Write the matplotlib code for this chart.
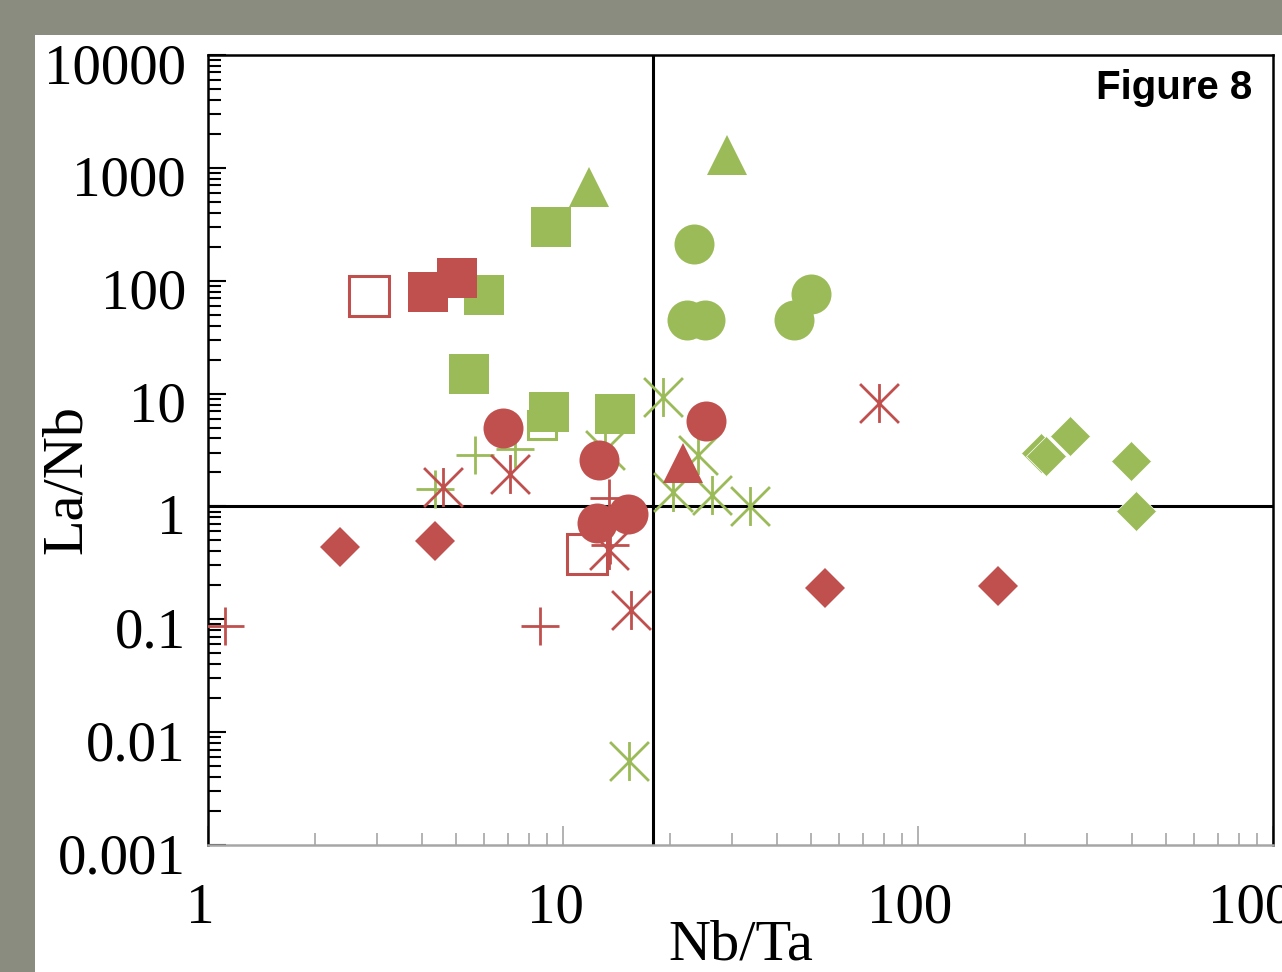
import numpy as np
import matplotlib
matplotlib.use("Agg")
import matplotlib.pyplot as plt
from matplotlib.path import Path
from matplotlib.patches import Rectangle
from matplotlib.transforms import ScaledTranslation
from matplotlib.ticker import LogLocator, FixedLocator, FixedFormatter, NullFormatter

# ---------------- data (Nb/Ta, La/Nb) ----------------
green_tri_x = [11.8, 29.0]
green_tri_y = [678, 1300]
green_sq_x = [9.25, 5.99, 5.43, 9.13, 14.0]
green_sq_y = [300, 74.8, 14.9, 6.88, 6.61]
green_sq_open_x = [8.73]
green_sq_open_y = [5.28]
green_circ_x = [23.4, 22.4, 25.1, 44.7, 50.0]
green_circ_y = [212, 45, 45, 45, 76.4]
green_dia_x = [222, 229, 268, 398, 411]
green_dia_y = [2.95, 2.78, 4.22, 2.53, 0.91]
green_ast_x = [19.1, 24.0, 20.4, 26.3, 33.6, 15.3, 13.1]
green_ast_y = [9.35, 2.86, 1.35, 1.27, 1.0, 0.0055, 3.17]
green_plus_x = [5.65, 7.32, 4.36]
green_plus_y = [2.86, 3.24, 1.43]

red_sq_x = [4.17, 5.03]
red_sq_y = [79.6, 106]
red_sq_open_x = [2.84, 11.7]
red_sq_open_y = [73.3, 0.38]
red_circ_x = [6.78, 12.6, 12.5, 15.2, 25.3]
red_circ_y = [4.97, 2.59, 0.716, 0.86, 5.73]
red_tri_x = [21.8]
red_tri_y = [2.43]
red_dia_x = [2.35, 4.36, 54.7, 168]
red_dia_y = [0.438, 0.496, 0.19, 0.198]
red_ast_x = [4.59, 7.09, 15.5, 77.6, 13.5]
red_ast_y = [1.49, 1.94, 0.121, 8.27, 0.413]
red_plus_x = [1.12, 8.6, 13.5, 13.6]
red_plus_y = [0.0875, 0.088, 1.19, 0.457]

ref_x = 17.9
ref_y = 1.0

x_ticks = [1, 10, 100, 1000]
x_labels = ["1", "10", "100", "1000"]
y_ticks = [0.001, 0.01, 0.1, 1, 10, 100, 1000, 10000]
y_labels = ["0.001", "0.01", "0.1", "1", "10", "100", "1000", "10000"]

GREEN = "#9BBB59"
RED = "#C0504D"
SERIF = ["Liberation Serif", "DejaVu Serif"]

# asterisk marker: vertical bar + X
ast = Path([(0, -1), (0, 1), (-1, -1), (1, 1), (-1, 1), (1, -1)],
           [Path.MOVETO, Path.LINETO, Path.MOVETO, Path.LINETO, Path.MOVETO, Path.LINETO])

fig = plt.figure(figsize=(12.82, 9.72), dpi=100)
fig.patch.set_facecolor("#898c7e")
bg = Rectangle((35 / 1282, 0), 1 - 35 / 1282, 1 - 35 / 972,
               transform=fig.transFigure, facecolor="white",
               edgecolor="none", zorder=-10)
fig.patches.append(bg)

ax = fig.add_axes([208 / 1282, 1 - 845 / 972, (1273 - 208) / 1282, (845 - 55) / 972])
ax.set_zorder(1)
ax.patch.set_facecolor("white")
ax.set_xscale("log")
ax.set_yscale("log")
ax.set_xlim(1, 1000)
ax.set_ylim(0.001, 10000)

ax.axvline(ref_x, color="black", lw=2.2, zorder=1)
ax.axhline(ref_y, color="black", lw=2.2, zorder=1)

ms_big = 28.8
# green
ax.plot(green_sq_open_x, green_sq_open_y, ls="none", marker="s", ms=20,
        mfc="white", mec=GREEN, mew=2.2, zorder=2)
ax.plot(green_plus_x, green_plus_y, ls="none", marker="+", ms=27, mec=GREEN, mew=2.0, zorder=2)
ax.plot(green_ast_x, green_ast_y, ls="none", marker=ast, ms=28, mec=GREEN, mew=2.0, zorder=2)
ax.plot(green_dia_x, green_dia_y, ls="none", marker="D", ms=20.5, color=GREEN, mec="white", mew=0.5, zorder=3)
ax.plot(green_sq_x, green_sq_y, ls="none", marker="s", ms=ms_big, color=GREEN, mew=0, zorder=3)
ax.plot(green_circ_x, green_circ_y, ls="none", marker="o", ms=ms_big, color=GREEN, mew=0, zorder=3)
ax.plot(green_tri_x, green_tri_y, ls="none", marker="^", ms=ms_big, color=GREEN, mew=0, zorder=3)
# red
ax.plot(red_sq_open_x, red_sq_open_y, ls="none", marker="s", ms=ms_big,
        mfc="none", mec=RED, mew=2.2, zorder=4)
ax.plot(red_plus_x, red_plus_y, ls="none", marker="+", ms=27, mec=RED, mew=2.0, zorder=4)
ax.plot(red_ast_x, red_ast_y, ls="none", marker=ast, ms=28, mec=RED, mew=2.0, zorder=4)
ax.plot(red_dia_x, red_dia_y, ls="none", marker="D", ms=20.5, color=RED, mew=0, zorder=5)
ax.plot(red_sq_x, red_sq_y, ls="none", marker="s", ms=ms_big, color=RED, mew=0, zorder=5)
ax.plot(red_circ_x, red_circ_y, ls="none", marker="o", ms=ms_big, color=RED, mew=0, zorder=5)
ax.plot(red_tri_x, red_tri_y, ls="none", marker="^", ms=ms_big, color=RED, mew=0, zorder=5)

# spines
for s in ["left", "top", "right"]:
    ax.spines[s].set_color("black")
    ax.spines[s].set_linewidth(1.8)
ax.spines["bottom"].set_color("#a6a6a6")
ax.spines["bottom"].set_linewidth(1.8)

# ticks
ax.yaxis.set_major_locator(FixedLocator(y_ticks))
ax.yaxis.set_major_formatter(FixedFormatter(y_labels))
ax.yaxis.set_minor_locator(LogLocator(base=10, subs=np.arange(2, 10), numticks=20))
ax.yaxis.set_minor_formatter(NullFormatter())
ax.xaxis.set_major_locator(FixedLocator(x_ticks))
ax.xaxis.set_major_formatter(FixedFormatter(x_labels))
ax.xaxis.set_minor_locator(LogLocator(base=10, subs=np.arange(2, 10), numticks=20))
ax.xaxis.set_minor_formatter(NullFormatter())

ax.tick_params(axis="y", which="major", direction="in", length=13, width=1.5,
               color="black", left=True, right=False, pad=16, labelsize=41)
ax.tick_params(axis="y", which="minor", direction="in", length=9.5, width=1.5,
               color="black", left=True, right=False)
ax.tick_params(axis="x", which="major", direction="in", length=14, width=1.2,
               color="#a6a6a6", bottom=True, top=False, pad=27, labelsize=41)
ax.tick_params(axis="x", which="minor", direction="in", length=9, width=1.2,
               color="#a6a6a6", bottom=True, top=False)

ax.set_xlabel("Nb/Ta", fontsize=42, family=SERIF)
ax.set_ylabel("La/Nb", fontsize=42, family=SERIF)
ax.xaxis.set_label_coords(0.5, -0.094)
ax.yaxis.set_label_coords(-0.108, 0.463)

fig.text(1252 / 1282, 1 - 88 / 972, "Figure 8", ha="right", va="center",
         fontsize=29, fontweight="bold", family=["Liberation Sans", "DejaVu Sans"])

# nudge tick labels like the original (slightly lower / slightly left)
fig.canvas.draw()
for lab in ax.get_yticklabels():
    lab.set_family(SERIF)
    lab.set_transform(lab.get_transform() + ScaledTranslation(0, -0.08, fig.dpi_scale_trans))
for lab in ax.get_xticklabels():
    lab.set_family(SERIF)
    lab.set_transform(lab.get_transform() + ScaledTranslation(-0.08, 0, fig.dpi_scale_trans))

fig.savefig("out.png", dpi=100, facecolor=fig.get_facecolor())
